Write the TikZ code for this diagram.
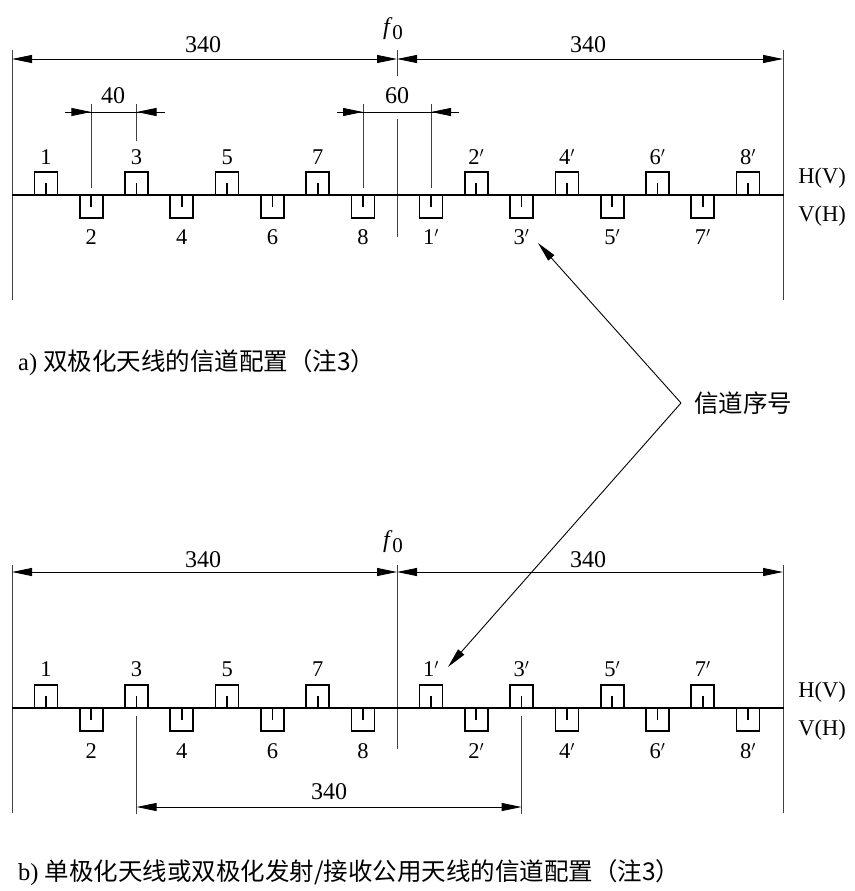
\documentclass[tikz,border=0pt]{standalone}
\usepackage{fontspec}
\setmainfont{Liberation Serif}
\newfontfamily\cjk{Noto Sans CJK SC}
\usetikzlibrary{arrows.meta}
\begin{document}
\begin{tikzpicture}[x=1pt,y=-1pt,
  boxline/.style={line width=1.7pt,line join=miter},
  thinl/.style={line width=0.9pt,black!75},
  dimline/.style={line width=0.9pt,black},
  dimarrow/.style={line width=0.9pt,black,{Triangle[length=20pt,width=8pt]}-{Triangle[length=20pt,width=8pt]}},
  onearrow/.style={line width=0.9pt,black,-{Triangle[length=20pt,width=8pt]}},
  numtxt/.style={font=\fontsize{24}{26}\selectfont,inner sep=0pt},
  chtxt/.style={font=\fontsize{22.5}{24}\selectfont,inner sep=0pt},
  cjktxt/.style={font=\fontsize{24.5}{26}\selectfont,inner sep=0pt},
  upch/.pic={\draw[boxline] (-11.5,0) -- (-11.5,-23) -- (11.5,-23) -- (11.5,0);
             \draw[boxline] (0,0) -- (0,-12);},
  dnch/.pic={\draw[boxline] (-11.5,0) -- (-11.5,23) -- (11.5,23) -- (11.5,0);
             \draw[boxline] (0,0) -- (0,12);}
]
\useasboundingbox (0,0) rectangle (854,891);

% ================= a) =================
\draw[thinl] (12,50) -- (12,300);
\draw[thinl] (783,50) -- (783,300);
\draw[dimarrow] (12,59) -- (397,59);
\draw[dimarrow] (397,59) -- (783,59);
\node[numtxt] (a340l) at (203,45) {340};
\node[numtxt] (a340r) at (588,45) {340};
\draw[thinl] (397,50) -- (397,76);
\node[numtxt] (af0) at (393,29) {\textit{f}\raisebox{-5pt}{\fontsize{21}{21}\selectfont 0}};
% 40 dim
\draw[thinl] (91.3,104) -- (91.3,188);
\draw[thinl] (136.55,104) -- (136.55,141);
\draw[dimline] (65,112) -- (165,112);
\draw[onearrow] (65,112) -- (91.3,112);
\draw[onearrow] (165,112) -- (136.55,112);
\node[numtxt] (a40) at (113,96) {40};
% 60 dim
\draw[thinl] (363,104) -- (363,188);
\draw[thinl] (431,104) -- (431,188);
\draw[dimline] (337,112) -- (459,112);
\draw[onearrow] (337,112) -- (363,112);
\draw[onearrow] (459,112) -- (431,112);
\node[numtxt] (a60) at (397,96) {60};
\draw[thinl] (397,119) -- (397,237);
\draw[boxline] (12,195) -- (784,195);
\foreach \n in {1,3,5,7}{
  \pgfmathsetmacro\xa{363-(8-\n)*45.29}
  \pic at (\xa,195) {upch};
  \node[chtxt] (au\n) at (\xa,157) {\n};
}
\foreach \n in {2,4,6,8}{
  \pgfmathsetmacro\xa{363-(8-\n)*45.29}
  \pic at (\xa,195) {dnch};
  \node[chtxt] (ad\n) at (\xa,237) {\n};
}
\foreach \n in {2,4,6,8}{
  \pgfmathsetmacro\xb{431+(\n-1)*45.29}
  \pic at (\xb,195) {upch};
  \node[chtxt] (apu\n) at (\xb,157) {\n$'$};
}
\foreach \n in {1,3,5,7}{
  \pgfmathsetmacro\xb{431+(\n-1)*45.29}
  \pic at (\xb,195) {dnch};
  \node[chtxt] (apd\n) at (\xb,237) {\n$'$};
}
\node[chtxt] (ahv) at (822,178) {H(V)};
\node[chtxt] (avh) at (822,216) {V(H)};
\node[cjktxt,anchor=west] (acap) at (18,363) {a)\ \cjk 双极化天线的信道配置（注3）};

% ================= b) =================
\draw[thinl] (12,565) -- (12,813);
\draw[thinl] (783,565) -- (783,813);
\draw[dimarrow] (12,572) -- (397,572);
\draw[dimarrow] (397,572) -- (783,572);
\node[numtxt] (b340l) at (203,560) {340};
\node[numtxt] (b340r) at (588,560) {340};
\node[numtxt] (bf0) at (393,542) {\textit{f}\raisebox{-5pt}{\fontsize{21}{21}\selectfont 0}};
\draw[thinl] (397,565) -- (397,749);
\draw[boxline] (12,708) -- (784,708);
\foreach \n in {1,3,5,7}{
  \pgfmathsetmacro\xa{363-(8-\n)*45.29}
  \pic at (\xa,708) {upch};
  \node[chtxt] (bu\n) at (\xa,669) {\n};
  \pgfmathsetmacro\xb{431+(\n-1)*45.29}
  \pic at (\xb,708) {upch};
  \node[chtxt] (bpu\n) at (\xb,669) {\n$'$};
}
\foreach \n in {2,4,6,8}{
  \pgfmathsetmacro\xa{363-(8-\n)*45.29}
  \pic at (\xa,708) {dnch};
  \node[chtxt] (bd\n) at (\xa,751) {\n};
  \pgfmathsetmacro\xb{431+(\n-1)*45.29}
  \pic at (\xb,708) {dnch};
  \node[chtxt] (bpd\n) at (\xb,751) {\n$'$};
}
\node[chtxt] (bhv) at (822,692) {H(V)};
\node[chtxt] (bvh) at (822,730) {V(H)};
\draw[thinl] (136.55,716) -- (136.55,814);
\draw[thinl] (521.6,716) -- (521.6,814);
\draw[dimarrow] (136.55,807) -- (521.6,807);
\node[numtxt] (b340m) at (329,792) {340};
\node[cjktxt,anchor=west] (bcap) at (18,873) {b)\ \cjk 单极化天线或双极化发射/接收公用天线的信道配置（注3）};

% ================= channel number callout =================
\node[cjktxt,anchor=west] (lbl) at (694,403) {\cjk 信道序号};
\coordinate (v) at (681,403);
\coordinate (tipA) at (538,243);
\coordinate (tipB) at (448,667);
\draw[onearrow] (v) -- (tipA);
\draw[onearrow] (v) -- (tipB);
\end{tikzpicture}
\end{document}
